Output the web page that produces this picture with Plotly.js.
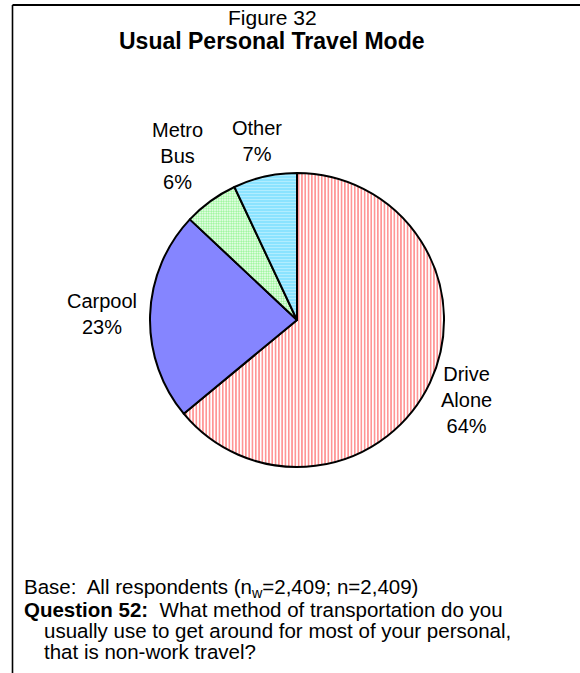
<!DOCTYPE html>
<html>
<head>
<meta charset="utf-8">
<script src="https://cdn.plot.ly/plotly-3.0.1.min.js"></script>
<style>html,body{margin:0;padding:0;background:#fff;}#chart{width:580px;height:673px;}</style>
</head>
<body>
<div id="chart"></div>
<script>
var categories = ["Drive<br>Alone", "Carpool", "Metro<br>Bus", "Other"];
var shares = [64, 23, 6, 7];
var percentLabels = ["64%", "23%", "6%", "7%"];
var titleLine1 = "Figure 32";
var titleLine2 = "Usual Personal Travel Mode";
var footerLines = [
  "Base:  All respondents (n<sub>w</sub>=2,409; n=2,409)",
  "<b>Question 52:</b>  What method of transportation do you",
  "usually use to get around for most of your personal,",
  "that is non-work travel?"
];

var W = 580, H = 673;
var cx = 297, cy = 320, R = 147;
var FONT = "Liberation Sans, Arial, sans-serif";
var LABEL_SIZE = 20;

var trace = {
  type: "pie",
  values: shares,
  labels: categories,
  sort: false,
  direction: "clockwise",
  rotation: 0,
  textinfo: "none",
  showlegend: false,
  hoverinfo: "skip",
  domain: {x: [(cx - R) / W, (cx + R) / W], y: [(H - cy - R) / H, (H - cy + R) / H]},
  marker: {
    colors: ["#ffffff", "#8585ff", "#ffffff", "#8be3ff"],
    line: {color: "#000", width: 2},
    pattern: {
      shape: ["|", "", ".", "-"],
      fgcolor: ["#ff8a8a", "#8585ff", "#8cf58c", "#b5eeff"],
      bgcolor: ["#ffffff", "#8585ff", "#ffffff", "#8be3ff"],
      size: [3.3, 8, 2.5, 3],
      solidity: [0.45, 0.1, 0.5, 0.3],
      fillmode: "replace"
    }
  }
};

var annotations = [];

// slice labels placed outside, at each slice's mid-angle
var total = shares.reduce(function (a, b) { return a + b; }, 0);
var cum = 0;
for (var k = 0; k < shares.length; k++) {
  var mid = (cum + shares[k] / 2) / total * 2 * Math.PI;
  cum += shares[k];
  var lines = (categories[k] + "<br>" + percentLabels[k]).split("<br>");
  var maxChars = Math.max.apply(null, lines.map(function (s) { return s.length; }));
  var halfW = maxChars * 0.53 * LABEL_SIZE / 2;
  var halfH = lines.length * 1.25 * LABEL_SIZE / 2;
  var s = Math.sin(mid), c = Math.cos(mid);
  var edge = Math.min(Math.abs(s) > 1e-6 ? halfW / Math.abs(s) : 1e9, Math.abs(c) > 1e-6 ? halfH / Math.abs(c) : 1e9);
  var d = R + 11 + edge;
  var px = cx + d * s, py = cy - d * c;
  annotations.push({
    xref: "paper", yref: "paper",
    x: px / W, y: 1 - py / H,
    xanchor: "center", yanchor: "middle", align: "center",
    text: lines.join("<br>"), showarrow: false,
    font: {family: FONT, size: LABEL_SIZE, color: "#000"}
  });
}

// title
annotations.push({
  xref: "paper", yref: "paper", x: 272 / W, y: 1 - 17 / H,
  xanchor: "center", yanchor: "middle", text: titleLine1, showarrow: false,
  font: {family: FONT, size: 21, color: "#000"}
});
annotations.push({
  xref: "paper", yref: "paper", x: 272 / W, y: 1 - 41 / H,
  xanchor: "center", yanchor: "middle", text: "<b>" + titleLine2 + "</b>", showarrow: false,
  font: {family: FONT, size: 23, color: "#000"}
});

// footer
var footY = [588, 609, 630, 651];
var footX = [22, 22, 42, 42];
for (var i = 0; i < footerLines.length; i++) {
  annotations.push({
    xref: "paper", yref: "paper",
    x: footX[i] / W, y: 1 - footY[i] / H,
    xanchor: "left", yanchor: "middle",
    text: footerLines[i], showarrow: false,
    font: {family: FONT, size: 20.5, color: "#000"}
  });
}

var layout = {
  width: W, height: H,
  margin: {l: 0, r: 0, t: 0, b: 0},
  paper_bgcolor: "#fff",
  plot_bgcolor: "#fff",
  font: {family: FONT, color: "#000"},
  annotations: annotations,
  shapes: [
    {type: "line", xref: "paper", yref: "paper", x0: 12.5 / W, x1: 1.01, y0: 1 - 5 / H, y1: 1 - 5 / H, line: {color: "#000", width: 2}},
    {type: "line", xref: "paper", yref: "paper", x0: 12.5 / W, x1: 12.5 / W, y0: 1 - 5 / H, y1: -0.01, line: {color: "#000", width: 1.6}}
  ]
};

Plotly.newPlot("chart", [trace], layout, {displayModeBar: false, staticPlot: true});
</script>
</body>
</html>
